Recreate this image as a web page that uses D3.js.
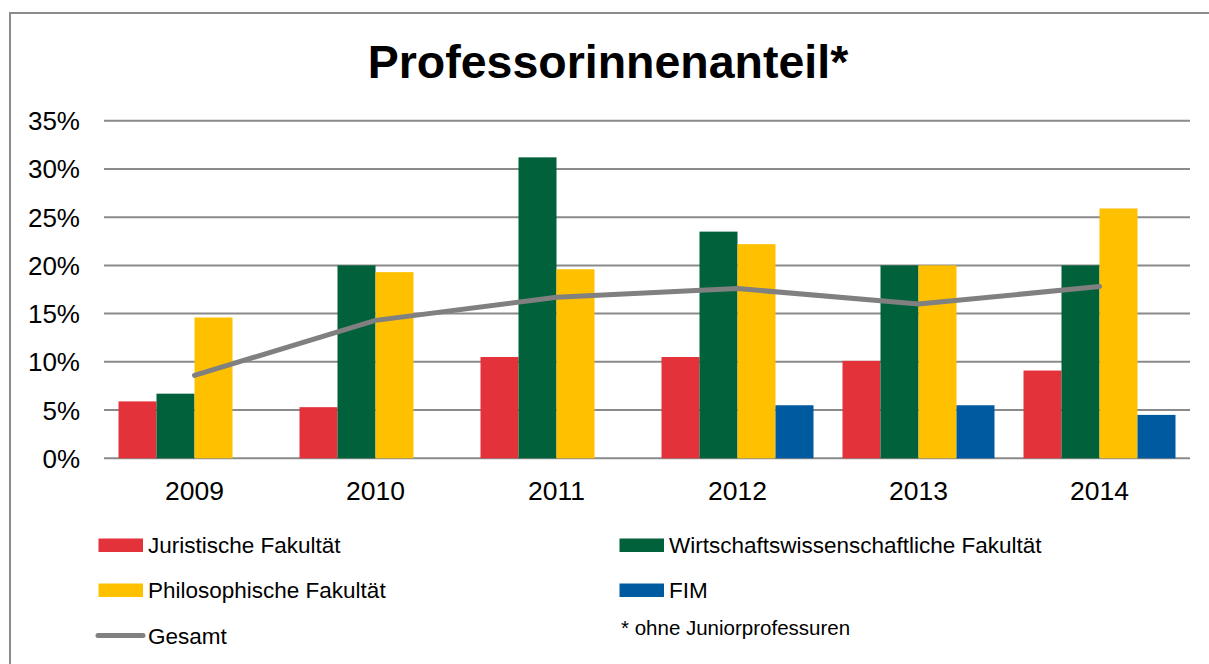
<!doctype html>
<html>
<head>
<meta charset="utf-8" />
<title>Professorinnenanteil</title>
<script src="https://cdn.jsdelivr.net/npm/d3@7/dist/d3.min.js"></script>
<style>
  body { margin: 0; background: #fff; }
  text { font-family: "Liberation Sans", Arial, sans-serif; fill: #000; }
</style>
</head>
<body>
<div id="chart"></div>
<script>
// data
var years = ['2009', '2010', '2011', '2012', '2013', '2014'];
var seriesNames = ['Juristische Fakultät', 'Wirtschaftswissenschaftliche Fakultät', 'Philosophische Fakultät', 'FIM'];
var juristisch = [5.9, 5.3, 10.5, 10.5, 10.1, 9.1];
var wiwi = [6.7, 20.0, 31.2, 23.5, 20.0, 20.0];
var philo = [14.6, 19.3, 19.6, 22.2, 20.0, 25.9];
var fim = [null, null, null, 5.5, 5.5, 4.5];
var gesamt = [8.6, 14.3, 16.7, 17.6, 16.0, 17.8];
var yTicks = [0, 5, 10, 15, 20, 25, 30, 35];
var colors = ['#e4323a', '#00613a', '#ffc000', '#005aa0'];
var lineColor = '#808080';

var W = 1209, H = 664;
var svg = d3.select('#chart').append('svg')
    .attr('width', W).attr('height', H);

// outer frame (runs off the bottom/right edge in the original)
svg.append('rect')
    .attr('x', 10).attr('y', 13)
    .attr('width', W + 20).attr('height', H + 20)
    .style('fill', 'none').style('stroke', '#8c8c8c').style('stroke-width', 2);

svg.append('text')
    .attr('x', 608).attr('y', 77.5)
    .attr('text-anchor', 'middle')
    .style('font-size', '46.5px').style('font-weight', 'bold')
    .text('Professorinnenanteil*');

var plotLeft = 104, plotRight = 1190, plotTop = 120.7, plotBottom = 458.3;

var x = d3.scaleBand().domain(years).range([plotLeft, plotRight]).paddingInner(0).paddingOuter(0);
var y = d3.scaleLinear().domain([0, 35]).range([plotBottom, plotTop]);
var inner = d3.scaleBand().domain(d3.range(4)).range([0, 152]);
var groupOffset = (x.bandwidth() - 152) / 2;

// gridlines
svg.append('g').selectAll('line').data(yTicks).join('line')
    .attr('x1', plotLeft).attr('x2', plotRight)
    .attr('y1', d => y(d)).attr('y2', d => y(d))
    .style('stroke', '#8a8a8a').style('stroke-width', 2);

// y labels
svg.append('g').selectAll('text').data(yTicks).join('text')
    .attr('x', 80).attr('y', d => y(d) + 9.5)
    .attr('text-anchor', 'end')
    .style('font-size', '26px')
    .text(d => d + '%');

// x labels
svg.append('g').selectAll('text').data(years).join('text')
    .attr('x', d => x(d) + x.bandwidth() / 2).attr('y', 499.5)
    .attr('text-anchor', 'middle')
    .style('font-size', '26.5px')
    .text(d => d);

// bars
var allSeries = [juristisch, wiwi, philo, fim];
allSeries.forEach(function (vals, si) {
    svg.append('g').selectAll('rect')
        .data(years.map((yr, i) => ({ yr: yr, v: vals[i] })).filter(d => d.v != null))
        .join('rect')
        .attr('x', d => x(d.yr) + groupOffset + inner(si))
        .attr('width', inner.bandwidth())
        .attr('y', d => y(d.v))
        .attr('height', d => y(0) - y(d.v))
        .style('fill', colors[si]);
});

// total line
var line = d3.line()
    .x((d, i) => x(years[i]) + x.bandwidth() / 2)
    .y(d => y(d));
svg.append('path')
    .datum(gesamt)
    .attr('d', line)
    .style('fill', 'none').style('stroke', lineColor)
    .style('stroke-width', 5).style('stroke-linecap', 'round')
    .style('stroke-linejoin', 'round');

// legend
var legendItems = [
    { name: seriesNames[0], color: colors[0], col: 0, row: 0 },
    { name: seriesNames[1], color: colors[1], col: 1, row: 0 },
    { name: seriesNames[2], color: colors[2], col: 0, row: 1 },
    { name: seriesNames[3], color: colors[3], col: 1, row: 1 }
];
var colX = [98.5, 619.5], rowY = [538.5, 583.5];
svg.append('g').selectAll('rect').data(legendItems).join('rect')
    .attr('x', d => colX[d.col]).attr('y', d => rowY[d.row])
    .attr('width', 44.5).attr('height', 13.5)
    .style('fill', d => d.color);
svg.append('g').selectAll('text').data(legendItems).join('text')
    .attr('x', d => colX[d.col] + 49.5).attr('y', d => rowY[d.row] + 14.5)
    .style('font-size', '22.5px')
    .text(d => d.name);

svg.append('line')
    .attr('x1', 98).attr('x2', 143)
    .attr('y1', 635.5).attr('y2', 635.5)
    .style('stroke', lineColor).style('stroke-width', 5).style('stroke-linecap', 'round');
svg.append('text')
    .attr('x', 148).attr('y', 644)
    .style('font-size', '22.5px')
    .text('Gesamt');

svg.append('text')
    .attr('x', 621).attr('y', 635)
    .style('font-size', '20.5px')
    .text('* ohne Juniorprofessuren');
</script>
</body>
</html>
